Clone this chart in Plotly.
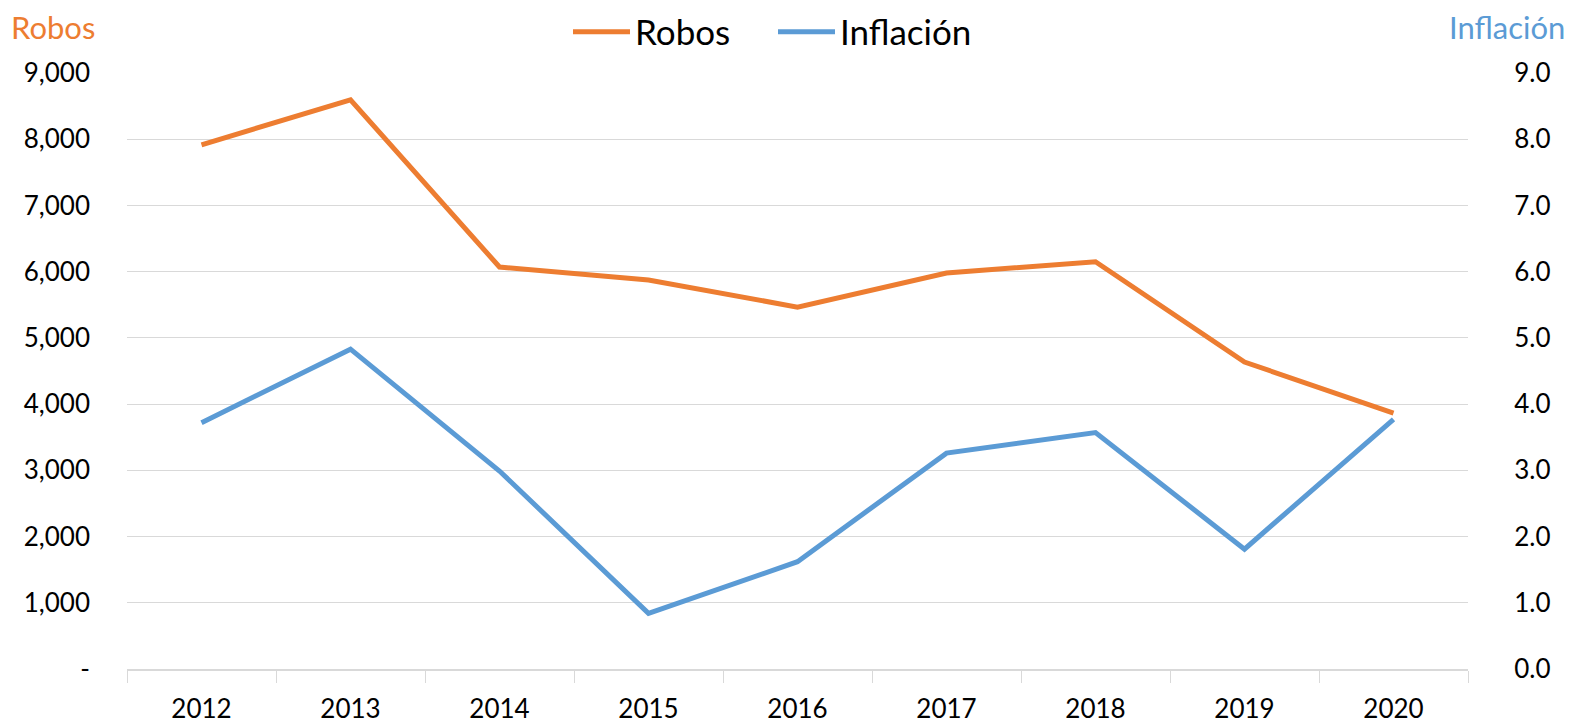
import plotly.graph_objects as go

years = ["2012", "2013", "2014", "2015", "2016", "2017", "2018", "2019", "2020"]
robos = [7915, 8595, 6070, 5875, 5465, 5980, 6150, 4635, 3865]
inflacion = [3.72, 4.83, 2.99, 0.84, 1.62, 3.26, 3.57, 1.81, 3.77]

left_ticks = [0, 1000, 2000, 3000, 4000, 5000, 6000, 7000, 8000, 9000]
left_text = ["-", "1,000", "2,000", "3,000", "4,000", "5,000", "6,000", "7,000", "8,000", "9,000"]
right_ticks = [0, 1, 2, 3, 4, 5, 6, 7, 8, 9]
right_text = ["0.0", "1.0", "2.0", "3.0", "4.0", "5.0", "6.0", "7.0", "8.0", "9.0"]

orange = "#ED7D31"
blue = "#5B9BD5"
font = "Lato"

# page body has an 8px margin; work in figure coords = screen - 8
OFF = 8
W, H = 1564, 717
L, T = 127 - OFF, 73 - OFF
R = W - (1468 - OFF)
B = H - (669 - OFF)
PW, PH = W - L - R, H - T - B


def px(xs):
    return (xs - OFF - L) / PW


def py(ys):
    return (H - B - (ys - OFF)) / PH


fig = go.Figure()
fig.add_trace(go.Scatter(x=years, y=robos, name="Robos", mode="lines",
                         line=dict(color=orange, width=5)))
fig.add_trace(go.Scatter(x=years, y=inflacion, name="Inflación", mode="lines",
                         line=dict(color=blue, width=5), yaxis="y2"))

fig.update_layout(
    width=W, height=H,
    margin=dict(l=L, r=R, t=T, b=B, autoexpand=False),
    paper_bgcolor="white", plot_bgcolor="white",
    font=dict(family=font, size=26, color="#000000"),
    showlegend=True,
    legend=dict(orientation="h", x=px(568), xanchor="left",
                y=py(32), yanchor="middle", entrywidth=133, itemwidth=57,
                font=dict(size=35, family=font, color="#000000"), bgcolor="rgba(0,0,0,0)"),
    xaxis=dict(type="category", range=[-0.5, 8.5], tickson="boundaries", ticks="outside", ticklen=12,
               tickcolor="#D9D9D9", showline=True, linecolor="#D9D9D9", linewidth=1.5,
               showgrid=False, ticklabelstandoff=16,
               tickfont=dict(size=26, family=font, color="#000000")),
    yaxis=dict(range=[0, 9000], tickvals=left_ticks, ticktext=left_text,
               showgrid=True, gridcolor="#D9D9D9", gridwidth=1, zeroline=False,
               showline=False, ticks="", ticklabelstandoff=36,
               tickfont=dict(size=26, family=font, color="#000000")),
    yaxis2=dict(range=[0, 9], tickvals=right_ticks, ticktext=right_text,
                overlaying="y", side="right", showgrid=False, zeroline=False,
                showline=False, ticks="outside", ticklen=40, tickcolor="rgba(0,0,0,0)",
                tickfont=dict(size=26, family=font, color="#000000")),
    annotations=[
        dict(text="Robos", xref="paper", yref="paper", x=px(9), y=py(27),
             xanchor="left", yanchor="middle", showarrow=False,
             font=dict(size=31, family=font, color=orange)),
        dict(text="Inflación", xref="paper", yref="paper", x=px(1567), y=py(27),
             xanchor="right", yanchor="middle", showarrow=False,
             font=dict(size=31, family=font, color=blue)),
    ],
)

fig.write_html("out.html")
